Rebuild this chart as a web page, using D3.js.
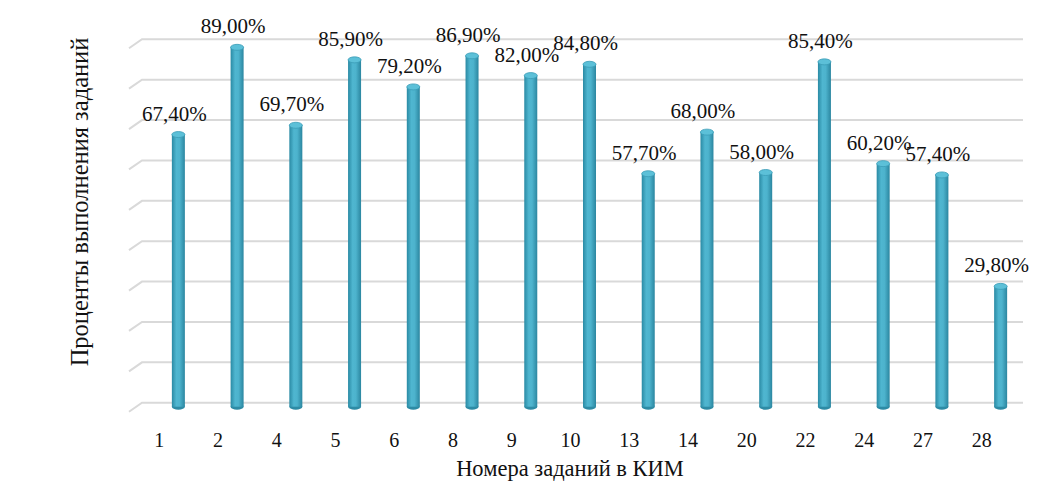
<!DOCTYPE html>
<html>
<head>
<meta charset="utf-8">
<script src="https://cdn.jsdelivr.net/npm/d3@7"></script>
<style>
  body { margin: 0; background: #fff; }
  text { font-family: "Liberation Serif", "Times New Roman", serif; fill: #111; }
</style>
</head>
<body>
<svg width="1058" height="485"></svg>
<script>
// task numbers and percent of completion
var tasks = ["1", "2", "4", "5", "6", "8", "9", "10", "13", "14", "20", "22", "24", "27", "28"];
var percents = [67.4, 89.0, 69.7, 85.9, 79.2, 86.9, 82.0, 84.8, 57.7, 68.0, 58.0, 85.4, 60.2, 57.4, 29.8];
var gridTicks = [0, 10, 20, 30, 40, 50, 60, 70, 80, 90];

var svg = d3.select("svg");

// back wall scale, bars sit a bit in front
var y = d3.scaleLinear().domain([0, 90]).range([402.7, 39.3]);
var x = d3.scaleBand().domain(tasks).range([149, 1030]);
var depth = 4; // vertical shift of bars relative to back wall

// gradient for the cylinders
var defs = svg.append("defs");
var grad = defs.append("linearGradient").attr("id", "cyl").attr("x1", 0).attr("x2", 1);
grad.append("stop").attr("offset", "0%").attr("stop-color", "#2a8aa4");
grad.append("stop").attr("offset", "35%").attr("stop-color", "#4fb6d0");
grad.append("stop").attr("offset", "60%").attr("stop-color", "#4db3cd");
grad.append("stop").attr("offset", "100%").attr("stop-color", "#2b86a0");

// gridlines with the little perspective diagonal on the left
svg.append("g")
    .selectAll("path")
    .data(gridTicks)
    .enter().append("path")
    .attr("d", function (d) {
        var yy = y(d);
        return "M129," + (yy + 9) + "L142," + yy + "L1023," + yy;
    })
    .attr("fill", "none")
    .attr("stroke", "#d9d9d9")
    .attr("stroke-width", 2);

var bw = 13;
var bar = svg.append("g")
    .selectAll("g")
    .data(tasks)
    .enter().append("g")
    .attr("transform", function (d) { return "translate(" + (x(d) + x.bandwidth() / 2) + ",0)"; });

// bottom ellipse
bar.append("ellipse")
    .attr("cx", 0)
    .attr("cy", y(0) + depth)
    .attr("rx", bw / 2)
    .attr("ry", 3)
    .attr("fill", "#2d8ba5");

bar.append("rect")
    .attr("x", -bw / 2)
    .attr("width", bw)
    .attr("y", function (d, i) { return y(percents[i]) + depth; })
    .attr("height", function (d, i) { return y(0) - y(percents[i]); })
    .attr("fill", "url(#cyl)");

// top cap
bar.append("ellipse")
    .attr("cx", 0)
    .attr("cy", function (d, i) { return y(percents[i]) + depth; })
    .attr("rx", bw / 2)
    .attr("ry", 3)
    .attr("fill", "#5cc0d8")
    .attr("stroke", "#3a9cb6")
    .attr("stroke-width", 0.8);

// value labels
bar.append("text")
    .attr("x", -4)
    .attr("y", function (d, i) { return y(percents[i]) + depth - 14; })
    .attr("text-anchor", "middle")
    .style("font-size", "21px")
    .text(function (d, i) { return percents[i].toFixed(2).replace(".", ",") + "%"; });

// category labels
svg.append("g")
    .selectAll("text")
    .data(tasks)
    .enter().append("text")
    .attr("x", function (d) { return x(d) + x.bandwidth() / 2 - 19; })
    .attr("y", 447)
    .attr("text-anchor", "middle")
    .style("font-size", "20px")
    .text(function (d) { return d; });

// axis titles
svg.append("text")
    .attr("x", 570)
    .attr("y", 476)
    .attr("text-anchor", "middle")
    .style("font-size", "22.5px")
    .text("Номера заданий в КИМ");

svg.append("text")
    .attr("transform", "translate(88,202) rotate(-90)")
    .attr("text-anchor", "middle")
    .style("font-size", "24.5px")
    .text("Проценты выполнения заданий");
</script>
</body>
</html>
